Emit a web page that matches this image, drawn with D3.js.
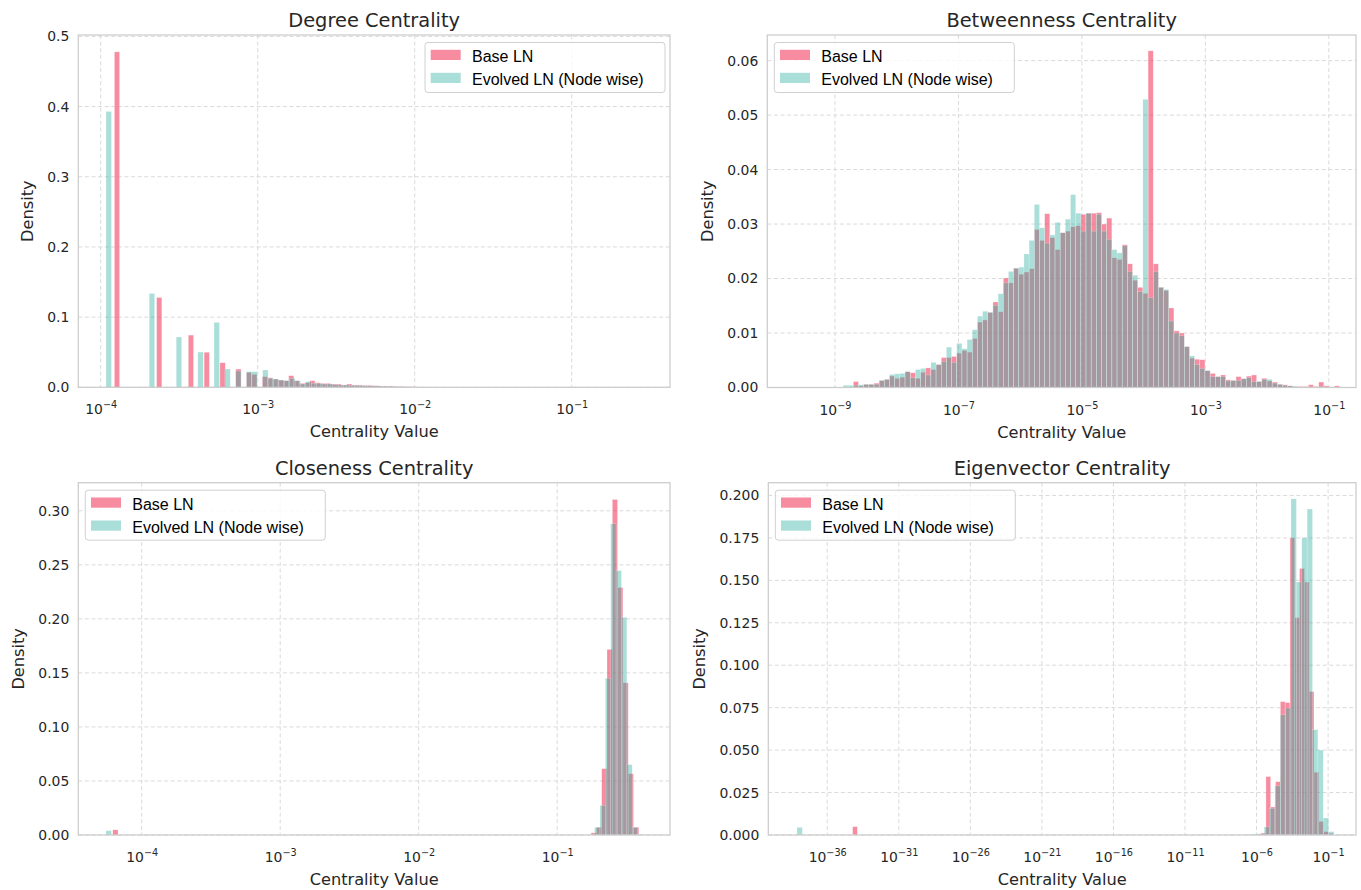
<!DOCTYPE html>
<html>
<head>
<meta charset="utf-8">
<script src="https://cdn.jsdelivr.net/npm/d3@7/dist/d3.min.js"></script>
<style>
  body { margin: 0; background: #fff; }
  svg text { font-family: "DejaVu Sans", sans-serif; fill: #262626; }
  .legend text { font-family: "Liberation Sans", Arial, sans-serif; fill: #000; }
</style>
</head>
<body>
<svg id="chart" width="1361" height="890"></svg>
<script>
// series names
const seriesNames = ["Base LN", "Evolved LN (Node wise)"];

// every histogram uses 100 log-spaced bins between log10(min) and log10(max) of its own series
// sparse bins are [bin index, density]; empty bins are left out

// ---- Degree centrality
const degreeBaseRange = [-3.913, -0.550];
const degreeBase = [[0, 0.478], [8, 0.128], [14, 0.0744], [17, 0.050], [20, 0.035], [23, 0.026],
  [25, 0.0213], [26, 0.0185], [28, 0.0151], [29, 0.0137], [30, 0.0118], [31, 0.0104], [32, 0.0094],
  [33, 0.0166], [34, 0.0094], [35, 0.0057], [36, 0.0066], [37, 0.0094], [38, 0.0066], [39, 0.0057],
  [40, 0.0057], [41, 0.0047], [42, 0.0047], [43, 0.0033], [44, 0.0047], [45, 0.0033], [46, 0.0033],
  [47, 0.0028], [48, 0.0028], [49, 0.0024], [50, 0.0019], [51, 0.0019], [52, 0.0019], [53, 0.0014],
  [54, 0.0014], [55, 0.0010], [56, 0.0008], [57, 0.0005], [58, 0.0005], [59, 0.0004], [60, 0.0003]];
const degreeEvolvedRange = [-3.966, -0.526];
const degreeEvolved = [[0, 0.393], [8, 0.1337], [13, 0.0716], [17, 0.0502], [20, 0.0924], [22, 0.026],
  [24, 0.0232], [26, 0.0222], [27, 0.0222], [29, 0.0246], [30, 0.0128], [31, 0.0118], [32, 0.0104],
  [33, 0.0094], [34, 0.0128], [35, 0.0094], [36, 0.0047], [37, 0.0080], [38, 0.0057], [39, 0.0057],
  [40, 0.0047], [41, 0.0047], [42, 0.0038], [43, 0.0033], [44, 0.0033], [45, 0.0030], [46, 0.0028],
  [47, 0.0024], [48, 0.0024], [49, 0.0019], [50, 0.0019], [51, 0.0014], [52, 0.0014], [53, 0.0012],
  [54, 0.0010], [55, 0.0008], [56, 0.0006], [57, 0.0005], [58, 0.0004], [59, 0.0003]];

// ---- Betweenness centrality (both series on the same bin range)
const betweennessRange = [-8.870, -0.829];
const betweennessBase = [0, 0, 0.0011, 0.0003, 0.0006, 0.0006, 0.0008, 0.0013, 0.0015, 0.0021,
  0.0017, 0.0019, 0.0029, 0.0027, 0.0017, 0.0028, 0.0036, 0.0033, 0.0042, 0.0055,
  0.0055, 0.0057, 0.0063, 0.0068, 0.0065, 0.0090, 0.0120, 0.0124, 0.0138, 0.0157,
  0.0139, 0.0201, 0.0192, 0.0219, 0.0208, 0.0212, 0.0218, 0.0290, 0.0270, 0.0319,
  0.0275, 0.0253, 0.0284, 0.0287, 0.0295, 0.0297, 0.0318, 0.0320, 0.0320, 0.0321,
  0.0300, 0.0311, 0.0238, 0.0235, 0.0262, 0.0227, 0.0197, 0.0184, 0.0173, 0.0618,
  0.0227, 0.0184, 0.0178, 0.0146, 0.0104, 0.0100, 0.0075, 0.0054, 0.0052, 0.0051,
  0.0031, 0.0026, 0.0020, 0.0023, 0.0014, 0.0013, 0.0020, 0.0016, 0.0021, 0.0023,
  0.0011, 0.0017, 0.0012, 0.0010, 0.0006, 0.0005, 0.0003, 0.0002, 0.0002, 0.0002,
  0.0005, 0.0002, 0.0010, 0.0003, 0.0001, 0.0003];
const betweennessEvolved = [0.0004, 0.0004, 0.0004, 0.0005, 0.0006, 0.0006, 0.0006, 0.0013, 0.0015, 0.0024,
  0.0025, 0.0026, 0.0029, 0.0018, 0.0033, 0.0035, 0.0023, 0.0046, 0.0042, 0.0048,
  0.0074, 0.0046, 0.0081, 0.0071, 0.0088, 0.0106, 0.0131, 0.0140, 0.0138, 0.0151,
  0.0172, 0.0192, 0.0213, 0.0219, 0.0221, 0.0245, 0.0270, 0.0336, 0.0293, 0.0265,
  0.0280, 0.0303, 0.0284, 0.0309, 0.0354, 0.0320, 0.0287, 0.0320, 0.0287, 0.0318,
  0.0287, 0.0272, 0.0253, 0.0247, 0.0260, 0.0213, 0.0206, 0.0176, 0.0529, 0.0165,
  0.0213, 0.0184, 0.0180, 0.0122, 0.0100, 0.0095, 0.0075, 0.0058, 0.0042, 0.0035,
  0.0031, 0.0020, 0.0020, 0.0020, 0.0012, 0.0013, 0.0013, 0.0016, 0.0018, 0.0011,
  0.0011, 0.0015, 0.0015, 0.0008, 0.0006, 0.0004, 0.0003, 0.0002, 0.0001, 0.0001,
  0.0001, 0.0001, 0.0002, 0.0001, 0, 0];

// ---- Closeness centrality
const closenessBaseRange = [-4.209, -0.372];
const closenessBase = [[0, 0.0048], [90, 0.002], [91, 0.0072], [92, 0.0614], [93, 0.1718], [94, 0.3105],
  [95, 0.229], [96, 0.1408], [97, 0.0567], [98, 0.0072], [99, 0.0005]];
const closenessEvolvedRange = [-4.258, -0.381];
const closenessEvolved = [[0, 0.004], [91, 0.0072], [92, 0.0274], [93, 0.145], [94, 0.288],
  [95, 0.2447], [96, 0.2015], [97, 0.0651], [98, 0.0072], [99, 0.0005]];

// ---- Eigenvector centrality
const eigenBaseRange = [-34.228, -0.643];
const eigenBase = [[0, 0.0049], [82, 0.0002], [83, 0.0003], [84, 0.0005], [85, 0.0012], [86, 0.0344],
  [87, 0.0165], [88, 0.0314], [89, 0.0786], [90, 0.078], [91, 0.175], [92, 0.128], [93, 0.157],
  [94, 0.149], [95, 0.0845], [96, 0.037], [97, 0.008], [98, 0.002], [99, 0.001]];
const eigenEvolvedRange = [-38.114, -0.590];
const eigenEvolved = [[0, 0.0045], [83, 0.0003], [84, 0.0004], [85, 0.0006], [86, 0.0008], [87, 0.0048],
  [88, 0.0157], [89, 0.0289], [90, 0.0708], [91, 0.0748], [92, 0.198], [93, 0.149], [94, 0.175],
  [95, 0.192], [96, 0.062], [97, 0.050], [98, 0.010], [99, 0.002]];

// axis limits (log10 for x) and ticks
const degreeXLim = [-4.1426, -0.3739], degreeXTicks = [-4, -3, -2, -1];
const degreeYMax = 0.502, degreeYTicks = [0, 0.1, 0.2, 0.3, 0.4, 0.5];
const betweennessXLim = [-10.096, -0.56], betweennessXTicks = [-9, -7, -5, -3, -1];
const betweennessYMax = 0.0647, betweennessYTicks = [0, 0.01, 0.02, 0.03, 0.04, 0.05, 0.06];
const closenessXLim = [-4.4578, -0.1856], closenessXTicks = [-4, -3, -2, -1];
const closenessYMax = 0.326, closenessYTicks = [0, 0.05, 0.10, 0.15, 0.20, 0.25, 0.30];
const eigenXLim = [-40.117, 0.95], eigenXTicks = [-36, -31, -26, -21, -16, -11, -6, -1];
const eigenYMax = 0.2075, eigenYTicks = [0, 0.025, 0.05, 0.075, 0.1, 0.125, 0.15, 0.175, 0.2];

const svg = d3.select("#chart");
const colors = { base: "#f23f61", evolved: "#2aac9e" };
const alphas = { base: 0.6, evolved: 0.4 };

function sparseBars(range, pairs) {
  const w = (range[1] - range[0]) / 100;
  return pairs.map(([i, d]) => ({ lo: range[0] + i * w, hi: range[0] + (i + 1) * w, d }));
}
function denseBars(range, values) {
  const w = (range[1] - range[0]) / values.length;
  return values.map((d, i) => ({ lo: range[0] + i * w, hi: range[0] + (i + 1) * w, d }));
}

function drawPanel(p) {
  const [x0, x1, y0, y1] = p.box;
  const g = svg.append("g");
  const x = d3.scaleLog().domain(p.xLim.map(e => Math.pow(10, e))).range([x0, x1]);
  const y = d3.scaleLinear().domain([0, p.yMax]).range([y1, y0]);
  const xt = p.xTicks.map(e => Math.pow(10, e));

  // grid
  g.append("g").selectAll("line").data(xt).join("line")
    .attr("x1", d => x(d)).attr("x2", d => x(d)).attr("y1", y0).attr("y2", y1)
    .attr("stroke", "#dadada").attr("stroke-width", 1).attr("stroke-dasharray", "4,2.6");
  g.append("g").selectAll("line").data(p.yTicks).join("line")
    .attr("x1", x0).attr("x2", x1).attr("y1", d => y(d)).attr("y2", d => y(d))
    .attr("stroke", "#dadada").attr("stroke-width", 1).attr("stroke-dasharray", "4,2.6");

  // bars: base first, evolved on top
  [["base", p.base], ["evolved", p.evolved]].forEach(([k, bars]) => {
    g.append("g").selectAll("rect").data(bars.filter(b => b.d > 0)).join("rect")
      .attr("x", b => x(Math.pow(10, b.lo)))
      .attr("width", b => x(Math.pow(10, b.hi)) - x(Math.pow(10, b.lo)))
      .attr("y", b => y(b.d))
      .attr("height", b => y1 - y(b.d))
      .attr("fill", colors[k]).attr("fill-opacity", alphas[k])
      .attr("stroke", "#fff").attr("stroke-opacity", alphas[k]).attr("stroke-width", 0.5);
  });

  // frame
  g.append("rect").attr("x", x0).attr("y", y0).attr("width", x1 - x0).attr("height", y1 - y0)
    .attr("fill", "none").attr("stroke", "#cccccc").attr("stroke-width", 1.25);

  // x axis labels
  const xa = g.append("g").attr("transform", `translate(0,${y1})`)
    .call(d3.axisBottom(x).tickValues(xt).tickSize(0).tickPadding(0).tickFormat(""));
  xa.select(".domain").remove();
  xa.selectAll(".tick text").attr("y", 27).attr("dy", null).attr("font-size", 13.9)
    .attr("font-family", null)
    .each(function (d) {
      const t = d3.select(this);
      const e = Math.round(Math.log10(d));
      t.append("tspan").text("10");
      t.append("tspan").attr("font-size", 9.7).attr("dy", -6).text("\u2212" + Math.abs(e));
    });

  // y axis labels
  const ya = g.append("g").attr("transform", `translate(${x0},0)`)
    .call(d3.axisLeft(y).tickValues(p.yTicks).tickSize(0).tickPadding(9).tickFormat(d3.format(p.yFormat)));
  ya.select(".domain").remove();
  ya.selectAll(".tick text").attr("font-size", 13.9).attr("font-family", null).attr("fill", "#262626");
  let maxW = 0;
  ya.selectAll(".tick text").each(function () { maxW = Math.max(maxW, this.getComputedTextLength()); });

  g.append("text").attr("transform", `translate(${x0 - 9 - maxW - 20},${(y0 + y1) / 2}) rotate(-90)`)
    .attr("text-anchor", "middle").attr("dy", "0.35em").attr("font-size", 16.2).text("Density");
  g.append("text").attr("x", (x0 + x1) / 2).attr("y", y1 + 50)
    .attr("text-anchor", "middle").attr("font-size", 16.2).text("Centrality Value");
  g.append("text").attr("x", (x0 + x1) / 2).attr("y", y0 - 8)
    .attr("text-anchor", "middle").attr("font-size", 19.4).text(p.title);

  // legend
  const lw = 240, lh = 50;
  const lx = p.legend === "right" ? x1 - 5 - lw : x0 + 7;
  const ly = y0 + 7.5;
  const lg = g.append("g").attr("class", "legend").attr("transform", `translate(${lx},${ly})`);
  lg.append("rect").attr("width", lw).attr("height", lh).attr("rx", 3)
    .attr("fill", "#fff").attr("fill-opacity", 0.8).attr("stroke", "#d0d0d0").attr("stroke-width", 1);
  ["base", "evolved"].forEach((k, i) => {
    lg.append("rect").attr("x", 5.7).attr("y", 7.3 + i * 23).attr("width", 30).attr("height", 10.2)
      .attr("fill", colors[k]).attr("fill-opacity", alphas[k]);
    lg.append("text").attr("x", 47).attr("y", 19.6 + i * 23)
      .attr("font-size", 16).text(seriesNames[i]);
  });
}

drawPanel({
  title: "Degree Centrality", box: [78.3, 670, 35, 387.3],
  xLim: degreeXLim, xTicks: degreeXTicks, yMax: degreeYMax, yTicks: degreeYTicks, yFormat: ".1f",
  base: sparseBars(degreeBaseRange, degreeBase), evolved: sparseBars(degreeEvolvedRange, degreeEvolved),
  legend: "right"
});
drawPanel({
  title: "Betweenness Centrality", box: [767.3, 1356, 35, 387.5],
  xLim: betweennessXLim, xTicks: betweennessXTicks, yMax: betweennessYMax, yTicks: betweennessYTicks, yFormat: ".2f",
  base: denseBars(betweennessRange, betweennessBase), evolved: denseBars(betweennessRange, betweennessEvolved),
  legend: "left"
});
drawPanel({
  title: "Closeness Centrality", box: [78.3, 670, 482.7, 835],
  xLim: closenessXLim, xTicks: closenessXTicks, yMax: closenessYMax, yTicks: closenessYTicks, yFormat: ".2f",
  base: sparseBars(closenessBaseRange, closenessBase), evolved: sparseBars(closenessEvolvedRange, closenessEvolved),
  legend: "left"
});
drawPanel({
  title: "Eigenvector Centrality", box: [768.3, 1356, 482.7, 835],
  xLim: eigenXLim, xTicks: eigenXTicks, yMax: eigenYMax, yTicks: eigenYTicks, yFormat: ".3f",
  base: sparseBars(eigenBaseRange, eigenBase), evolved: sparseBars(eigenEvolvedRange, eigenEvolved),
  legend: "left"
});
</script>
</body>
</html>
